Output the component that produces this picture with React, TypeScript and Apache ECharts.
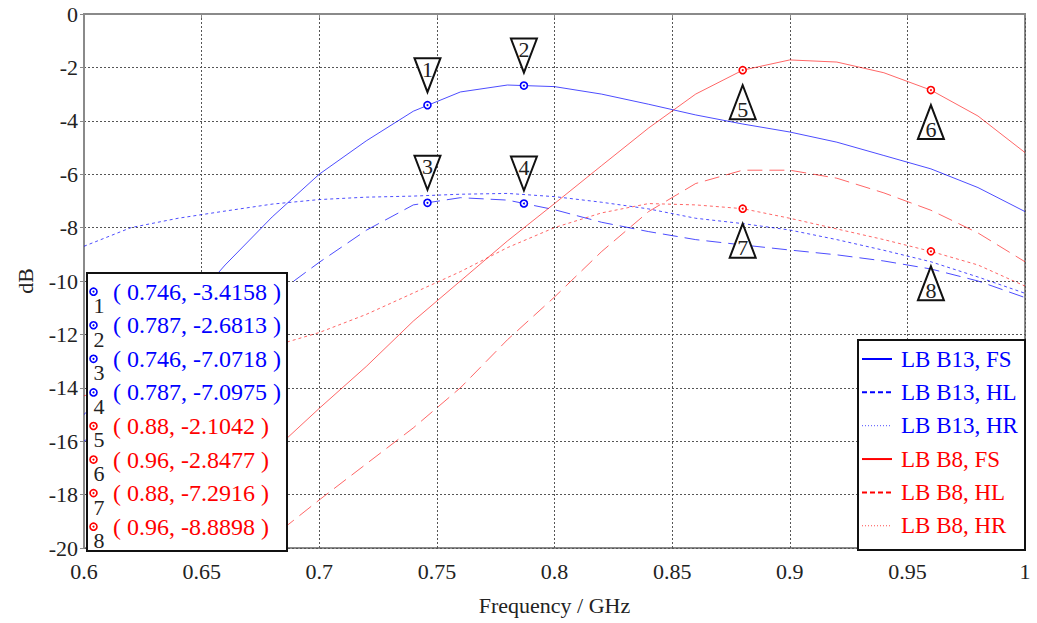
import React, { useEffect, useRef } from "react";
import * as echarts from "echarts";

// Frequency sweep (GHz) shared by all traces
const freq = [0.6, 0.62, 0.64, 0.66, 0.68, 0.7, 0.72, 0.74, 0.76, 0.78, 0.8, 0.82, 0.84, 0.86, 0.88, 0.9, 0.92, 0.94, 0.96, 0.98, 1.0];

// LB B13 traces (dB)
const b13FS = [-15.0, -13.3, -11.4, -9.4, -7.6, -6.0, -4.75, -3.64, -2.92, -2.66, -2.72, -3.0, -3.38, -3.78, -4.12, -4.42, -4.8, -5.3, -5.8, -6.5, -7.4];
const b13HL = [-16.0, -14.8, -13.5, -12.1, -10.6, -9.3, -8.1, -7.15, -6.88, -6.97, -7.33, -7.8, -8.15, -8.45, -8.65, -8.84, -9.02, -9.25, -9.55, -10.0, -10.62];
const b13HR = [-8.7, -8.0, -7.65, -7.38, -7.12, -6.95, -6.86, -6.82, -6.75, -6.72, -6.84, -7.05, -7.3, -7.65, -7.85, -8.09, -8.45, -8.85, -9.28, -9.85, -10.46];

// LB B8 traces (dB)
const b8FS = [-22.8, -21.2, -19.6, -18.0, -16.4, -14.77, -13.2, -11.5, -10.0, -8.5, -7.1, -5.68, -4.27, -3.0, -2.1042, -1.72, -1.8, -2.2, -2.85, -3.82, -5.19];
const b8HL = [-24.5, -23.3, -22.0, -20.8, -19.6, -18.2, -16.85, -15.5, -14.0, -12.2, -10.6, -8.9, -7.4, -6.35, -5.85, -5.85, -6.15, -6.7, -7.35, -8.2, -9.28];
const b8HR = [-14.3, -13.8, -13.3, -12.9, -12.45, -11.93, -11.25, -10.45, -9.65, -8.75, -8.0, -7.45, -7.1, -7.15, -7.29, -7.65, -8.05, -8.45, -8.89, -9.4, -10.19];

// Markers
const markerNo = [1, 2, 3, 4, 5, 6, 7, 8];
const markerFreq = [0.746, 0.787, 0.746, 0.787, 0.88, 0.96, 0.88, 0.96];
const markerDb = [-3.4158, -2.6813, -7.0718, -7.0975, -2.1042, -2.8477, -7.2916, -8.8898];
const markerFreqText = ["0.746", "0.787", "0.746", "0.787", "0.88", "0.96", "0.88", "0.96"];
const markerDbText = ["-3.4158", "-2.6813", "-7.0718", "-7.0975", "-2.1042", "-2.8477", "-7.2916", "-8.8898"];
const markerBand = ["B13", "B13", "B13", "B13", "B8", "B8", "B8", "B8"];
const markerPointer = ["down", "down", "down", "down", "up", "up", "up", "up"];

const seriesNames = ["LB B13, FS", "LB B13, HL", "LB B13, HR", "LB B8, FS", "LB B8, HL", "LB B8, HR"];
const seriesValues = [b13FS, b13HL, b13HR, b8FS, b8HL, b8HR];

const BLUE = "#0000ff";
const RED = "#ff0000";
const FONT = "Liberation Serif";

const lineDash: Record<string, any> = {
  FS: "solid",
  HL: [15, 7],
  HR: [3, 3],
};
const legendDash: Record<string, any> = {
  FS: "solid",
  HL: [5, 3],
  HR: [1, 2],
};

export default function App() {
  const ref = useRef<HTMLDivElement>(null);

  useEffect(() => {
    if (!ref.current) return;
    const chart = echarts.init(ref.current, null, { renderer: "svg" });

    const lineSeries = seriesNames.map((name, i) => {
      const blue = name.includes("B13");
      const kind = name.split(", ")[1];
      return {
        name,
        type: "line",
        data: freq.map((f, k) => [f, seriesValues[i][k]]),
        showSymbol: false,
        symbol: "none",
        clip: true,
        z: 3,
        lineStyle: {
          color: blue ? BLUE : RED,
          width: 1,
          opacity: blue ? 0.7 : 0.6,
          type: lineDash[kind],
        },
      };
    });

    const markerSeries = {
      type: "custom",
      z: 5,
      clip: false,
      data: markerFreq.map((f, i) => [f, markerDb[i], i]),
      renderItem: (params: any, api: any) => {
        const i = api.value(2);
        const p = api.coord([api.value(0), api.value(1)]);
        const col = markerBand[i] === "B13" ? BLUE : RED;
        const w = 26;
        const h = 34;
        let tri: number[][];
        let ty: number;
        if (markerPointer[i] === "down") {
          const tip = p[1] - 13;
          tri = [[p[0] - w / 2, tip - h], [p[0] + w / 2, tip - h], [p[0], tip]];
          ty = tip - h + 11;
        } else {
          const apex = p[1] + 15;
          tri = [[p[0], apex], [p[0] - w / 2, apex + h], [p[0] + w / 2, apex + h]];
          ty = apex + h - 10;
        }
        return {
          type: "group",
          children: [
            { type: "polygon", shape: { points: tri }, style: { fill: "#fff", stroke: "#111", lineWidth: 2 } },
            {
              type: "text",
              style: { text: String(markerNo[i]), x: p[0], y: ty, fill: "#222", fontSize: 22, fontFamily: FONT, align: "center", verticalAlign: "middle" },
            },
            { type: "circle", shape: { cx: p[0], cy: p[1], r: 3.5 }, style: { fill: "#fff", stroke: col, lineWidth: 1.6 } },
            { type: "circle", shape: { cx: p[0], cy: p[1], r: 1 }, style: { fill: col } },
          ],
        };
      },
    };

    // Marker read-out table
    const Z = 100;
    const tableX = 87;
    const tableY = 273;
    const rowH = 33.57;
    const row0 = 291.7;
    const tableChildren: any[] = [
      { type: "rect", z: Z, shape: { x: tableX, y: tableY, width: 200, height: 278 }, style: { fill: "#fff", stroke: "#111", lineWidth: 2 } },
    ];
    markerNo.forEach((n, i) => {
      const cy = row0 + i * rowH;
      const col = markerBand[i] === "B13" ? BLUE : RED;
      tableChildren.push(
        { type: "circle", z: Z + 1, shape: { cx: 93.5, cy, r: 3.5 }, style: { fill: "#fff", stroke: col, lineWidth: 1.6 } },
        { type: "circle", z: Z + 1, shape: { cx: 93.5, cy, r: 1 }, style: { fill: col } },
        { type: "text", z: Z + 1, style: { text: String(n), x: 99, y: cy + 14, fill: "#222", fontSize: 22, fontFamily: FONT, align: "center", verticalAlign: "middle" } },
        {
          type: "text",
          z: Z + 1,
          style: { text: `( ${markerFreqText[i]}, ${markerDbText[i]} )`, x: 113, y: cy, fill: col, fontSize: 24, fontFamily: FONT, align: "left", verticalAlign: "middle" },
        }
      );
    });

    // Trace legend
    const legX = 858;
    const legY = 340;
    const legRow0 = 359;
    const legRowH = 33.35;
    const legendChildren: any[] = [
      { type: "rect", z: Z, shape: { x: legX, y: legY, width: 167, height: 210 }, style: { fill: "#fff", stroke: "#111", lineWidth: 2 } },
    ];
    seriesNames.forEach((name, i) => {
      const cy = legRow0 + i * legRowH;
      const col = name.includes("B13") ? BLUE : RED;
      const kind = name.split(", ")[1];
      const dash = legendDash[kind];
      legendChildren.push(
        {
          type: "line",
          z: Z + 1,
          shape: { x1: 862, y1: cy, x2: 892, y2: cy },
          style: { stroke: col, lineWidth: kind === "HR" ? 1 : 2, lineDash: dash === "solid" ? null : dash, opacity: kind === "HR" ? 0.7 : 1 },
        },
        { type: "text", z: Z + 1, style: { text: name, x: 901, y: cy, fill: col, fontSize: 23, fontFamily: FONT, align: "left", verticalAlign: "middle" } }
      );
    });

    const axisText = { fontSize: 22, color: "#222", fontFamily: FONT };

    chart.setOption({
      animation: false,
      backgroundColor: "#fff",
      textStyle: { fontFamily: FONT },
      grid: {
        left: 84,
        top: 14,
        right: 12,
        bottom: 75,
        show: true,
        borderColor: "#8a8a8a",
        borderWidth: 2,
        backgroundColor: "transparent",
      },
      xAxis: {
        type: "value",
        min: 0.6,
        max: 1.0,
        interval: 0.05,
        name: "Frequency / GHz",
        nameLocation: "middle",
        nameGap: 46,
        nameTextStyle: axisText,
        axisLine: { show: true, lineStyle: { color: "#8a8a8a", width: 2 } },
        axisTick: { show: true, inside: false, length: 4, lineStyle: { color: "#8a8a8a" } },
        axisLabel: {
          ...axisText,
          margin: 12,
          formatter: (v: number) => String(parseFloat(v.toFixed(2))),
        },
        splitLine: { show: true, lineStyle: { color: "#555", width: 1, type: [2, 2] } },
      },
      yAxis: {
        type: "value",
        min: -20,
        max: 0,
        interval: 2,
        name: "dB",
        nameLocation: "middle",
        nameGap: 48,
        nameRotate: 90,
        nameTextStyle: axisText,
        axisLine: { show: true, lineStyle: { color: "#8a8a8a", width: 2 } },
        axisTick: { show: true, inside: false, length: 4, lineStyle: { color: "#8a8a8a" } },
        axisLabel: { ...axisText, margin: 6 },
        splitLine: { show: true, lineStyle: { color: "#555", width: 1, type: [2, 2] } },
      },
      series: [...lineSeries, markerSeries],
      graphic: [...tableChildren, ...legendChildren],
    });

    return () => chart.dispose();
  }, []);

  return <div ref={ref} style={{ position: "fixed", left: 0, top: 0, width: 1037, height: 623 }} />;
}
